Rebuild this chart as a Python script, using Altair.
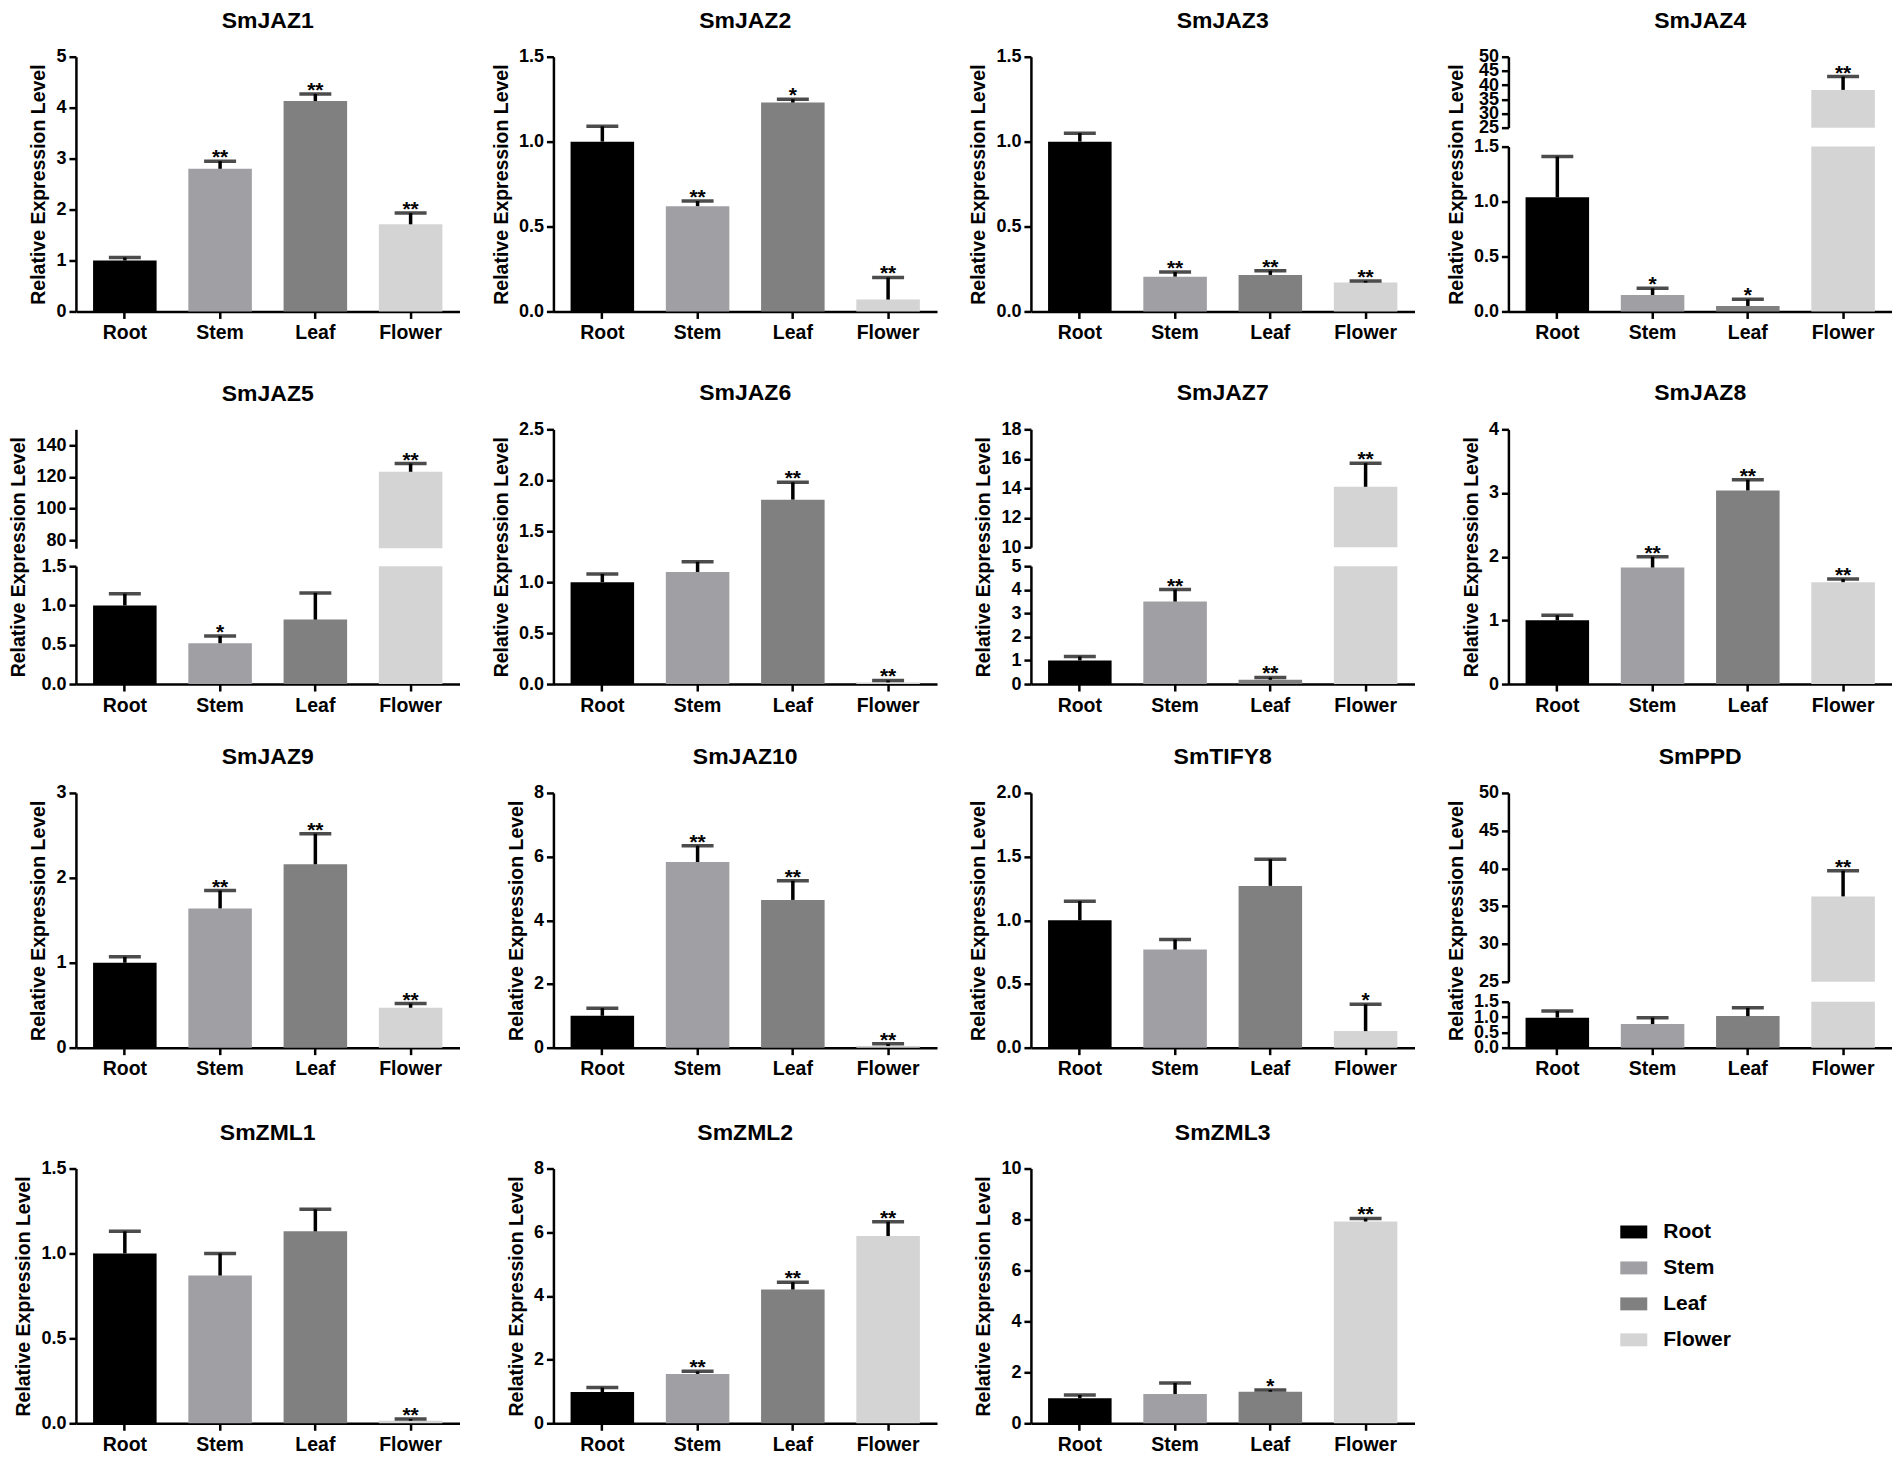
import altair as alt
import pandas as pd

# ---------------- data ----------------
TISSUES = ["Root", "Stem", "Leaf", "Flower"]
COLORS = ["#000000", "#a0a0a4", "#808080", "#d4d4d4"]

GENES = ["SmJAZ1", "SmJAZ2", "SmJAZ3", "SmJAZ4",
         "SmJAZ5", "SmJAZ6", "SmJAZ7", "SmJAZ8",
         "SmJAZ9", "SmJAZ10", "SmTIFY8", "SmPPD",
         "SmZML1", "SmZML2", "SmZML3"]

MEANS = [
    [1.00, 2.80, 4.13, 1.71],    # SmJAZ1
    [1.00, 0.62, 1.23, 0.07],    # SmJAZ2
    [1.00, 0.205, 0.215, 0.17],  # SmJAZ3
    [1.04, 0.15, 0.05, 38.3],    # SmJAZ4
    [1.00, 0.52, 0.82, 123.2],   # SmJAZ5
    [1.00, 1.10, 1.81, 0.016],   # SmJAZ6
    [1.00, 3.50, 0.18, 14.1],    # SmJAZ7
    [1.00, 1.83, 3.04, 1.60],    # SmJAZ8
    [1.00, 1.64, 2.16, 0.47],    # SmJAZ9
    [1.00, 5.83, 4.64, 0.05],    # SmJAZ10
    [1.00, 0.77, 1.27, 0.13],    # SmTIFY8
    [0.98, 0.77, 1.03, 36.3],    # SmPPD
    [1.00, 0.87, 1.13, 0.015],   # SmZML1
    [0.98, 1.55, 4.20, 5.88],    # SmZML2
    [0.98, 1.15, 1.24, 7.92],    # SmZML3
]

ERR_TOPS = [
    [1.06, 2.95, 4.27, 1.93],
    [1.09, 0.65, 1.25, 0.20],
    [1.05, 0.233, 0.24, 0.18],
    [1.41, 0.21, 0.11, 43.0],
    [1.15, 0.61, 1.16, 128.4],
    [1.08, 1.20, 1.98, 0.036],
    [1.17, 4.01, 0.28, 15.7],
    [1.08, 2.00, 3.21, 1.65],
    [1.07, 1.85, 2.52, 0.52],
    [1.24, 6.34, 5.24, 0.12],
    [1.15, 0.85, 1.48, 0.34],
    [1.20, 0.98, 1.30, 39.7],
    [1.13, 1.00, 1.26, 0.025],
    [1.12, 1.63, 4.43, 6.33],
    [1.11, 1.58, 1.31, 8.04],
]

SIGNIF = [
    ["", "**", "**", "**"],
    ["", "**", "*", "**"],
    ["", "**", "**", "**"],
    ["", "*", "*", "**"],
    ["", "*", "", "**"],
    ["", "", "**", "**"],
    ["", "**", "**", "**"],
    ["", "**", "**", "**"],
    ["", "**", "**", "**"],
    ["", "**", "**", "**"],
    ["", "", "", "*"],
    ["", "", "", "**"],
    ["", "", "", "**"],
    ["", "**", "**", "**"],
    ["", "", "*", "**"],
]

# y-axis (lower / only segment) maximum and tick step
Y_MAX = [5, 1.5, 1.5, 1.5, 1.5, 2.5, 5, 4, 3, 8, 2.0, 1.5, 1.5, 8, 10]
Y_STEP = [1, 0.5, 0.5, 0.5, 0.5, 0.5, 1, 1, 1, 2, 0.5, 0.5, 0.5, 2, 2]

# broken-axis panels: upper segment domain and ticks
UPPER_DOMAIN = {"SmJAZ4": [25, 50], "SmJAZ5": [75, 150],
                "SmJAZ7": [10, 18], "SmPPD": [25, 50]}
UPPER_TICKS = {"SmJAZ4": [25, 30, 35, 40, 45, 50],
               "SmJAZ5": [80, 100, 120, 140],
               "SmJAZ7": [10, 12, 14, 16, 18],
               "SmPPD": [25, 30, 35, 40, 45, 50]}

# ---------------- layout / style ----------------
FONT = "Liberation Sans"
W, H = 384, 255
# pixel layout of the broken axes: (upper segment bottom, lower segment top, title offset)
BREAK_LAYOUT = {"SmJAZ4": (71, 90, 42), "SmJAZ5": (119, 137, 47),
                "SmJAZ7": (118, 137, 37), "SmPPD": (189, 209, 42)}
# panel-title offset (SmJAZ5 has no tick label at its very top)
TITLE_OFFSET = {"SmJAZ5": 23}
YTITLE = "Relative Expression Level"
SWATCH = "M-1,-0.48H1V0.48H-1Z"


def tick_vals(hi, step):
    n = int(round(hi / step))
    return [round(k * step, 4) for k in range(n + 1)]


X_ENC = alt.X("tissue:N", sort=TISSUES, title=None,
              scale=alt.Scale(domain=TISSUES, paddingInner=0.333, paddingOuter=0.18),
              axis=alt.Axis(labelAngle=0, labelFontSize=19.5, labelPadding=5))
COLOR_ENC = alt.Color("tissue:N", sort=TISSUES,
                      scale=alt.Scale(domain=TISSUES, range=COLORS), legend=None)


def sublayers(bar_df, err_df, yscale, yaxis, with_base=False):
    def Y(field):
        return alt.Y(f"{field}:Q", scale=yscale, axis=yaxis)

    enc = dict(x=X_ENC, y=Y("mean"), color=COLOR_ENC)
    if with_base:
        enc["y2"] = alt.Y2("base:Q")
    bars = alt.Chart(bar_df).mark_bar().encode(**enc)
    rules = alt.Chart(err_df).mark_rule(color="black", strokeWidth=3.5).encode(
        x=X_ENC, y=Y("mean"), y2=alt.Y2("top:Q"))
    caps = alt.Chart(err_df).mark_tick(color="black", thickness=3.5, size=32).encode(
        x=X_ENC, y=Y("top"))
    stars = alt.Chart(err_df).mark_text(
        baseline="alphabetic", dy=3, fontSize=21, fontWeight="bold", font=FONT,
        color="black").encode(x=X_ENC, y=Y("top"), text="sig:N")
    return alt.layer(bars, rules, caps, stars)


def panel(i):
    name = GENES[i]
    df = pd.DataFrame({"tissue": TISSUES, "mean": MEANS[i],
                       "top": ERR_TOPS[i], "sig": SIGNIF[i]})
    hi, step = Y_MAX[i], Y_STEP[i]
    fmt = "d" if step >= 1 else ".1f"
    if name not in UPPER_DOMAIN:
        ys = alt.Scale(domain=[0, hi], nice=False)
        ya = alt.Axis(values=tick_vals(hi, step), format=fmt, title=YTITLE,
                      labelOverlap=False)
        ch = sublayers(df, df, ys, ya)
    else:
        ub, lt, tx = BREAK_LAYOUT[name]
        dom = UPPER_DOMAIN[name]
        ls = alt.Scale(domain=[0, hi], range=[H, lt], nice=False, clamp=True)
        la = alt.Axis(values=tick_vals(hi, step), format=fmt, title=YTITLE,
                      titleX=-tx, titleY=H / 2, labelOverlap=False, orient="left")
        us = alt.Scale(domain=dom, range=[ub, 0], nice=False, zero=False, clamp=True)
        ua = alt.Axis(values=UPPER_TICKS[name], format="d", title=None,
                      labelOverlap=False, orient="left")
        low_err = df[df["top"] <= hi]
        up = df[df["mean"] > dom[0]].copy()
        up["base"] = dom[0]
        lower = sublayers(df, low_err, ls, la)
        upper = sublayers(up, up, us, ua, with_base=True)
        ch = alt.layer(lower, upper).resolve_scale(y="independent")
    return ch.properties(
        width=W, height=H,
        title=alt.TitleParams(text=name, fontSize=23, font=FONT, fontWeight="bold",
                              anchor="middle", frame="group",
                              offset=TITLE_OFFSET.get(name, 15), color="black"))


panels = [panel(i) for i in range(len(GENES))]

legend_cell = alt.Chart(pd.DataFrame({"tissue": TISSUES})).mark_point(
    filled=True, size=0).encode(
    color=alt.Color("tissue:N", sort=TISSUES,
                    scale=alt.Scale(domain=TISSUES, range=COLORS),
                    legend=alt.Legend(title=None, orient="none", legendX=112, legendY=50,
                                      symbolType=SWATCH, symbolSize=729,
                                      symbolStrokeWidth=0, symbolOpacity=1,
                                      labelFont=FONT, labelFontSize=21,
                                      labelFontWeight="bold", labelColor="black",
                                      labelOffset=16, rowPadding=12, padding=0))
).properties(width=W, height=H)


def row(items):
    return alt.hconcat(*items, spacing=94, bounds="flush").resolve_scale(
        color="independent")


r1 = row(panels[0:4])
r2 = row(panels[4:8])
r3 = row(panels[8:12])
r4 = row(panels[12:15] + [legend_cell])

upper_rows = alt.vconcat(r1, r2, spacing=40).resolve_scale(color="independent")
lower_rows = alt.vconcat(r3, r4, spacing=43).resolve_scale(color="independent")

chart = alt.vconcat(upper_rows, lower_rows, spacing=31).resolve_scale(
    color="independent"
).properties(
    padding={"left": 0, "top": 1, "right": 0, "bottom": 0}
).configure_view(stroke=None).configure_axis(
    labelFont=FONT, labelFontSize=18, labelFontWeight="bold", labelColor="black",
    titleFont=FONT, titleFontSize=19.5, titleFontWeight="bold", titleColor="black",
    titlePadding=7, labelPadding=3,
    domainColor="black", domainWidth=2.5, tickColor="black", tickWidth=2.5,
    tickSize=7, grid=False
)

chart.save("out.html", embed_options={"renderer": "svg", "actions": False})
